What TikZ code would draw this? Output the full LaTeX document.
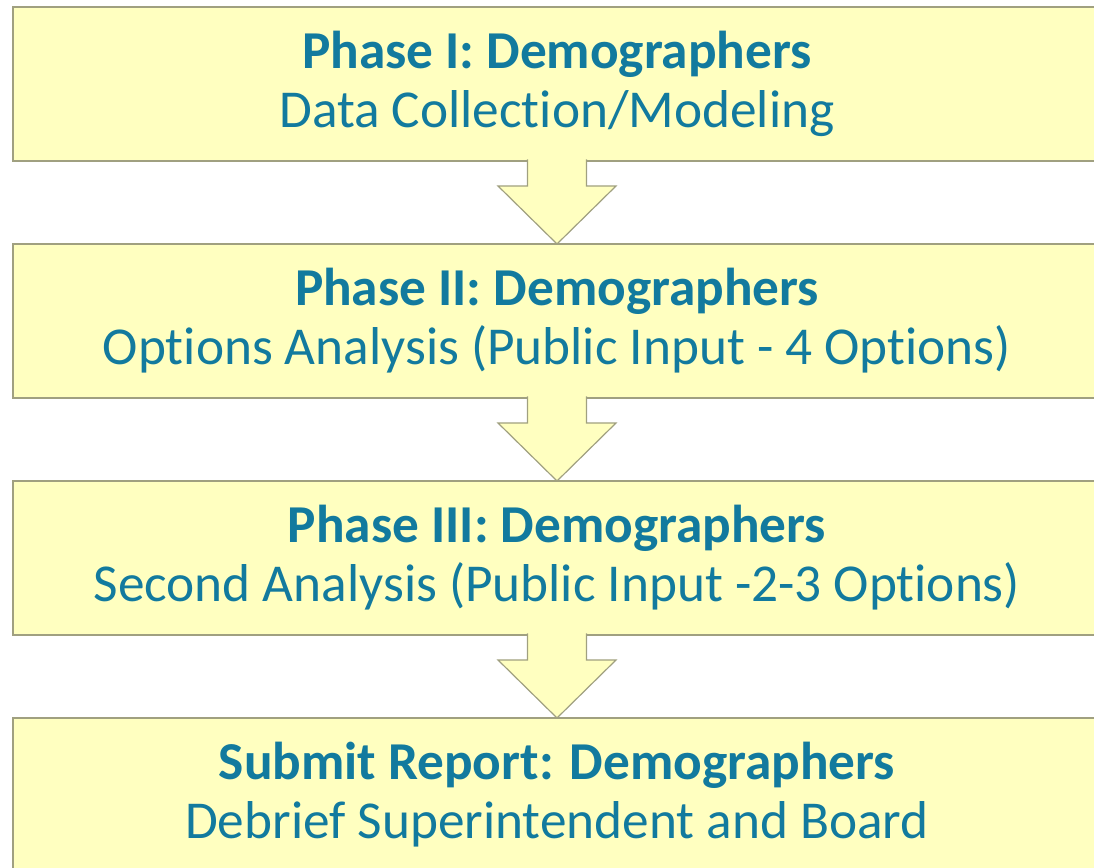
\documentclass[tikz,border=0pt]{standalone}
\usepackage{fontspec}
\setmainfont{Carlito}[RawFeature={-liga}]
\usetikzlibrary{positioning,calc}

\definecolor{boxfill}{RGB}{255,255,192}
\definecolor{boxline}{RGB}{160,160,128}
\definecolor{phasetext}{RGB}{18,122,158}

\tikzset{
  phase/.style={draw=boxline, line width=1.6pt, fill=boxfill, outer sep=0pt,
    minimum width=1088pt, minimum height=154pt, inner sep=0pt, align=center,
    text=phasetext, font=\fontsize{53.3}{59}\selectfont},
  flowarrow/.style={draw=boxline, line width=1.2pt, fill=boxfill, line join=miter}
}

\begin{document}
\begin{tikzpicture}[x=1pt,y=1pt]
  \useasboundingbox (0,0) rectangle (1094,867);

  \node[phase] (phase1) at (557,783) {\textbf{Phase I: Demographers}\\Data Collection/Modeling};
  \node[phase, below=83pt of phase1] (phase2) {\textbf{Phase II: Demographers}\\Options Analysis (Public Input - 4 Options)};
  \node[phase, below=83pt of phase2] (phase3) {\textbf{Phase III: Demographers}\\Second Analysis (Public Input -2-3 Options)};
  \node[phase, below=83pt of phase3] (report) {\textbf{Submit Report: Demographers}\\Debrief Superintendent and Board};

  % block arrows between the phases
  \foreach \a/\b in {phase1/phase2, phase2/phase3, phase3/report}{
    \path[flowarrow] ($(\a.south)+(-29.5,1.5)$) -- ($(\a.south)+(-29.5,-25)$)
      -- ($(\a.south)+(-59,-25)$) -- (\b.north) -- ($(\a.south)+(59,-25)$)
      -- ($(\a.south)+(29.5,-25)$) -- ($(\a.south)+(29.5,1.5)$);
  }
\end{tikzpicture}
\end{document}
